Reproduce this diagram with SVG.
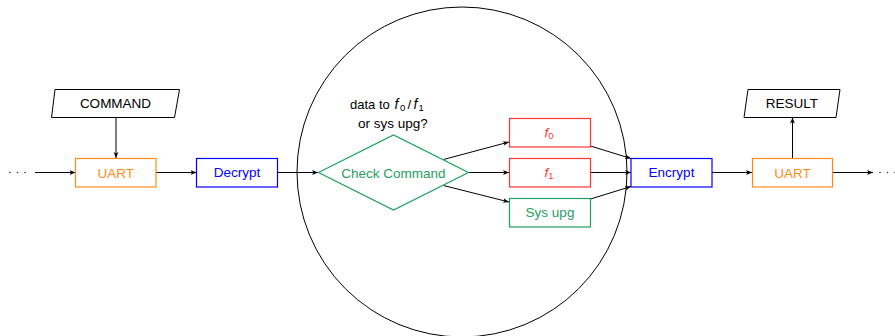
<svg xmlns="http://www.w3.org/2000/svg" width="895" height="336" viewBox="0 0 895 336">
  <defs>
    <marker id="arrow" viewBox="0 0 10 10" refX="10" refY="5" markerWidth="6" markerHeight="6" markerUnits="userSpaceOnUse" orient="auto">
      <path d="M0,1 L10,5 L0,9 L2.5,5 Z" fill="#000"/>
    </marker>
  </defs>
  <style>
    text { font-family: "Liberation Sans", Arial, sans-serif; font-size: 13.5px; text-anchor: middle; dominant-baseline: central; }
    .io { fill: #fff; stroke: #000; stroke-width: 1; }
    .uart rect { fill: #fff; stroke: #ff8c1a; stroke-width: 1.2; }
    .uart text { fill: #ff8c1a; }
    .crypt rect { fill: #fff; stroke: #0000ff; stroke-width: 1.2; }
    .crypt text { fill: #0000ff; }
    .fn rect { fill: #fff; stroke: #ff3333; stroke-width: 1.2; }
    .fn text { fill: #ff3333; font-style: italic; }
    .upg rect, .upg polygon { fill: #fff; stroke: #1f9e62; stroke-width: 1.2; }
    .upg text { fill: #1f9e62; }
    .edge { fill: none; stroke: #000; stroke-width: 1; marker-end: url(#arrow); }
    .dots { fill: #333; }
    .sub { font-size: 9.5px; font-style: normal; }
    .it { font-style: italic; font-size: 14px; }
  </style>

  <!-- processing boundary -->
  <circle cx="462" cy="172" r="165" fill="none" stroke="#000" stroke-width="1"/>

  <!-- connectors -->
  <g id="connectors">
    <line class="edge" x1="35" y1="172.5" x2="75.5" y2="172.5"/>
    <line class="edge" x1="116" y1="117.5" x2="116" y2="158"/>
    <line class="edge" x1="156" y1="172.5" x2="196.5" y2="172.5"/>
    <line class="edge" x1="277.5" y1="172.5" x2="318" y2="172.5"/>
    <line class="edge" x1="443.5" y1="159.5" x2="509" y2="142"/>
    <line class="edge" x1="468.5" y1="172.5" x2="509" y2="172.5"/>
    <line class="edge" x1="443.5" y1="185.5" x2="509" y2="202"/>
    <line class="edge" x1="590.5" y1="146" x2="631" y2="158.5"/>
    <line class="edge" x1="590.5" y1="172.5" x2="631" y2="172.5"/>
    <line class="edge" x1="590.5" y1="199" x2="631" y2="186.5"/>
    <line class="edge" x1="712" y1="172.5" x2="752" y2="172.5"/>
    <line class="edge" x1="792.5" y1="158" x2="792.5" y2="117.5"/>
    <line class="edge" x1="832.5" y1="172.5" x2="873" y2="172.5"/>
  </g>

  <!-- continuation dots -->
  <g class="dots">
    <circle cx="10" cy="172.5" r="0.8"/>
    <circle cx="17.5" cy="172.5" r="0.8"/>
    <circle cx="25" cy="172.5" r="0.8"/>
    <circle cx="880" cy="172.5" r="0.8"/>
    <circle cx="887.5" cy="172.5" r="0.8"/>
    <circle cx="895" cy="172.5" r="0.8"/>
  </g>

  <g id="command">
    <polygon class="io" points="55,89.5 179.5,89.5 174.5,117.5 51.5,117.5"/>
    <text x="115.5" y="103.5">COMMAND</text>
  </g>

  <g id="uart-in" class="uart">
    <rect x="75.5" y="158.5" width="80.5" height="28.5"/>
    <text x="115.75" y="173">UART</text>
  </g>

  <g id="decrypt" class="crypt">
    <rect x="196.5" y="158.5" width="81" height="28.5"/>
    <text x="237" y="172">Decrypt</text>
  </g>

  <g id="question">
    <text style="text-anchor:start" y="104"><tspan x="350" font-size="13">data to</tspan><tspan class="it" x="394.5">f</tspan><tspan class="sub" x="400" dy="3">0</tspan><tspan x="407.5" dy="-3">/</tspan><tspan class="it" x="413.5">f</tspan><tspan class="sub" x="418.5" dy="3">1</tspan></text>
    <text x="393" y="123">or sys upg?</text>
  </g>

  <g id="check" class="upg">
    <polygon points="318.5,172.5 393.5,135 468.5,172.5 393.5,210"/>
    <text x="393.5" y="173">Check Command</text>
  </g>

  <g id="f0" class="fn">
    <rect x="509.5" y="118.5" width="81" height="28.5"/>
    <text x="549" y="132">f<tspan class="sub" dy="3">0</tspan></text>
  </g>

  <g id="f1" class="fn">
    <rect x="509.5" y="158.5" width="81" height="28.5"/>
    <text x="549" y="172">f<tspan class="sub" dy="3">1</tspan></text>
  </g>

  <g id="sysupg" class="upg">
    <rect x="509.5" y="198.5" width="81" height="28.5"/>
    <text x="550" y="212.5">Sys upg</text>
  </g>

  <g id="encrypt" class="crypt">
    <rect x="631" y="158.5" width="81" height="28.5"/>
    <text x="671.5" y="172">Encrypt</text>
  </g>

  <g id="uart-out" class="uart">
    <rect x="752.5" y="158.5" width="80" height="28.5"/>
    <text x="792.5" y="173">UART</text>
  </g>

  <g id="result">
    <polygon class="io" points="748,89.5 840,89.5 836,117.5 744,117.5"/>
    <text x="792" y="103.5">RESULT</text>
  </g>
</svg>
